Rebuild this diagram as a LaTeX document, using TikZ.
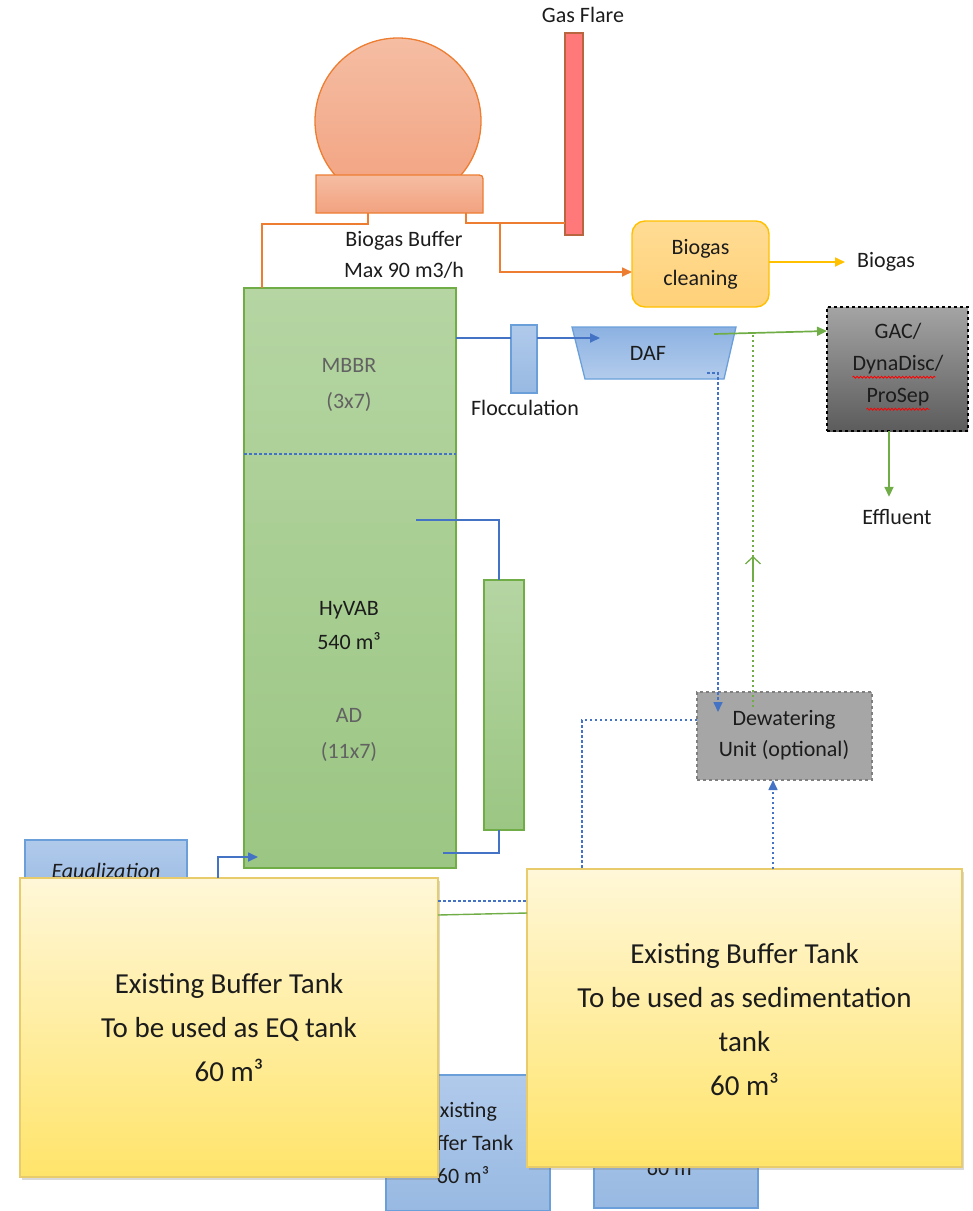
\documentclass[tikz,border=0pt]{standalone}
\usepackage{fontspec}
\setmainfont{Carlito}
\usetikzlibrary{arrows.meta,shadows,decorations.pathmorphing,calc}
\definecolor{orl}{HTML}{ED7D31}
\definecolor{orT}{HTML}{F5BDA3}
\definecolor{orB}{HTML}{F2A27F}
\definecolor{flareF}{HTML}{FF797B}
\definecolor{flareD}{HTML}{B9653F}
\definecolor{bcT}{HTML}{FFDC94}
\definecolor{bcB}{HTML}{FFD178}
\definecolor{yel}{HTML}{FFC000}
\definecolor{grT}{HTML}{B5D5A2}
\definecolor{grB}{HTML}{9BC683}
\definecolor{grl}{HTML}{70AD47}
\definecolor{bll}{HTML}{4472C4}
\definecolor{blb}{HTML}{6A9FDA}
\definecolor{blT}{HTML}{B0CAEB}
\definecolor{blB}{HTML}{98B9E2}
\definecolor{dafT}{HTML}{8CB2E2}
\definecolor{dafB}{HTML}{B3CCEC}
\definecolor{gacT}{HTML}{A4A4A4}
\definecolor{gacB}{HTML}{5C5C5C}
\definecolor{dewF}{HTML}{A6A6A6}
\definecolor{dewD}{HTML}{7F7F7F}
\definecolor{ywT}{HTML}{FFF7D8}
\definecolor{ywB}{HTML}{FFE46A}
\definecolor{ywD}{HTML}{E8CB6A}
\definecolor{txt}{HTML}{1C1C1C}
\definecolor{gtx}{HTML}{626262}
\begin{document}
\begin{tikzpicture}[x=1pt,y=-1pt,
  box/.style={anchor=north west, inner sep=0pt, outer sep=0pt},
  lbl/.style={font=\fontsize{22}{31}\selectfont, text=txt, inner sep=0pt, text height=15pt, text depth=5pt},
  mlbl/.style={font=\fontsize{22}{31}\selectfont, text=txt, inner sep=0pt, align=center},
  ylbl/.style={font=\fontsize{29}{44}\selectfont, text=txt, inner sep=0pt, align=center},
  tip/.style={-{Triangle[length=10pt,width=9pt]}},
  orln/.style={draw=orl, line width=1.7pt},
  bln/.style={draw=bll, line width=1.7pt},
  grn/.style={draw=grl, line width=1.7pt},
  yln/.style={draw=yel, line width=1.7pt},
  bdot/.style={draw=bll, line width=1.6pt, dash pattern=on 2.5pt off 2.5pt},
  gdot/.style={draw=grl, line width=1.6pt, dash pattern=on 2.5pt off 2.5pt},
  bluebox/.style={box, draw=blb, line width=1.3pt, top color=blT, bottom color=blB},
  yellowbox/.style={box, draw=ywD, line width=1.3pt, top color=ywT, bottom color=ywB,
     drop shadow={opacity=0.3, shadow xshift=2pt, shadow yshift=-3pt}},
  wavy/.style={draw=red, line width=0.8pt, decorate, decoration={snake, amplitude=1pt, segment length=3.5pt}}
]
\path[use as bounding box] (0,0) rectangle (973,1211);

% ---------- gas flare ----------
\node[lbl] (flarelbl) at (583,17) {Gas Flare};
\node[box, minimum width=18pt, minimum height=202pt, fill=flareF, draw=flareD, line width=1.1pt] (flare) at (565,33) {};

% ---------- biogas buffer ----------
\node[circle, minimum size=166pt, inner sep=0pt, draw=orl, line width=1.3pt, top color=orT, bottom color=orB] (sphere) at (398,121) {};
\node[box, minimum width=167pt, minimum height=38pt] (base) at (316,175) {};
\draw[draw=orl, line width=1.3pt, top color=orT, bottom color=orB]
  (316,213) -- (316,175) -- (475,175) .. controls (483,175) .. (483,183) -- (483,213) -- cycle;
\node[mlbl] (buflbl) at (404,255) {Biogas Buffer\\Max 90 m3/h};

% ---------- biogas cleaning ----------
\node[box, minimum width=137pt, minimum height=86pt, rounded corners=13pt, draw=yel, line width=1.4pt, top color=bcT, bottom color=bcB] (bclean) at (632,221) {};
\node[mlbl] at (bclean.center) {Biogas\\cleaning};
\node[lbl, anchor=west] (biogaslbl) at (857,262) {Biogas};

% ---------- main reactor ----------
\node[box, minimum width=212pt, minimum height=580pt, draw=grl, line width=1.3pt, top color=grT, bottom color=grB] (hyvab) at (244,288) {};
\draw[bdot, line width=1.2pt] (hyvab.west |- 0,454) -- (hyvab.east |- 0,454);
\node[lbl, text=gtx] (mbbr) at (349,367) {MBBR};
\node[lbl, text=gtx] (mbbr2) at (349,403) {(3x7)};
\node[lbl] (hv1) at (349,610) {HyVAB};
\node[lbl] (hv2) at (349,644) {540 m³};
\node[lbl, text=gtx] (ad1) at (349,717) {AD};
\node[lbl, text=gtx] (ad2) at (349,753) {(11x7)};

\node[box, minimum width=40pt, minimum height=250pt, draw=grl, line width=1.3pt, top color=grT, bottom color=grB] (side) at (484,580) {};

% ---------- flocculation / DAF ----------
\node[box, minimum width=26pt, minimum height=68pt, draw=blb, line width=1.3pt, top color=blT, bottom color=blB] (floc) at (511,325) {};
\node[lbl] (floclbl) at (525,410) {Flocculation};
\draw[draw=blb, line width=1.3pt, top color=dafT, bottom color=dafB]
  (572,327) -- (736,327) -- (724,379) -- (585,379) -- cycle;
\node[lbl] (daf) at (648,355) {DAF};

% ---------- GAC ----------
\node[box, minimum width=141pt, minimum height=124pt, draw=black, dashed, line width=1.2pt, top color=gacT, bottom color=gacB] (gac) at (827,307) {};
\node[lbl] (gac1) at (898,333) {GAC/};
\node[lbl] (gac2) at (898,365) {DynaDisc/};
\node[lbl] (gac3) at (898,397) {ProSep};
\draw[wavy] ([yshift=-2pt]gac2.south west) -- ([xshift=-8pt,yshift=-2pt]gac2.south east);
\draw[wavy] ([yshift=-2pt]gac3.south west) -- ([yshift=-2pt]gac3.south east);
\node[lbl] (eff) at (897,519) {Effluent};

% ---------- dewatering ----------
\node[box, minimum width=175pt, minimum height=88pt, fill=dewF, draw=dewD, dashed, line width=1.2pt] (dew) at (697,692) {};
\node[mlbl] (dewlbl) at (784,735) {Dewatering\\Unit (optional)};

% ---------- lower blue boxes ----------
\node[bluebox, minimum width=162pt, minimum height=66pt] (eq) at (25,840) {};
\node[lbl, font=\fontsize{22}{31}\selectfont\itshape] (eqlbl) at (106,873) {Equalization};
\node[bluebox, minimum width=164pt, minimum height=136pt] (tank1) at (386,1075) {};
\node[mlbl, font=\fontsize{22}{33}\selectfont] at ([xshift=-5pt]tank1.center) {Existing\\Buffer Tank\\60 m³};
\node[bluebox, minimum width=164pt, minimum height=133pt] (tank2) at (594,1075) {};
\node[mlbl, font=\fontsize{22}{33}\selectfont] at ([xshift=-3pt,yshift=7pt]tank2.center) {Existing\\Buffer Tank\\60 m³};

% ---------- yellow tanks ----------
\node[yellowbox, minimum width=418pt, minimum height=299pt] (eqt) at (20,878) {};
\node[ylbl] at (eqt.center) {Existing Buffer Tank\\To be used as EQ tank\\60 m³};
\node[yellowbox, minimum width=435pt, minimum height=298pt] (sed) at (527,869) {};
\node[ylbl] at ([yshift=-2pt]sed.center) {Existing Buffer Tank\\To be used as sedimentation\\tank\\60 m³};

% ---------- orange connectors ----------
\draw[orln] ([xshift=52pt]base.south west) -- ++(0,11) -| ([xshift=18pt]hyvab.north west);
\draw[orln] ([xshift=-17pt]base.south east) |- (flare.west |- 0,223);
\coordinate (j1) at (500,223);
\draw[orln, tip] (j1) |- (bclean.west |- 0,272);
\draw[yln, tip] (bclean.east |- 0,262) -- ([xshift=-12pt]biogaslbl.west);

% ---------- blue connectors ----------
\draw[bln] (hyvab.east |- 0,338) -- (floc.west |- 0,338);
\draw[bln, tip] (floc.east |- 0,338) -- (600,338);
\draw[bln] (416,520) -| ([xshift=-5pt]side.north);
\draw[bln] ([xshift=-5pt]side.south) |- (443,853);
\draw[bln, tip] (eqt.north -| 218,0) |- (258,857);
\draw[bdot, tip] (707,373) -| (718,712);
\draw[bdot] (dew.west |- 0,720) -| (sed.north -| 582,0);
\draw[bdot, tip] (sed.north -| 773,0) -- (dew.south -| 773,0);
\draw[bdot] (eqt.east |- 0,901) -- (sed.west |- 0,901);

% ---------- green connectors ----------
\draw[grn, tip] (714,334) -- (gac.west |- 0,331);
\draw[grn, tip] (gac.south -| 889,0) -- ([yshift=12pt]eff.north -| 889,0);
\draw[gdot] (753,707) -- (753,333);
\draw[draw=grl, line width=1.3pt, -{Straight Barb[length=7pt,width=15pt]}] (753,580) -- (753,556);
\draw[grn, line width=1.4pt] (eqt.east |- 0,915) -- (sed.west |- 0,913);
\end{tikzpicture}
\end{document}
